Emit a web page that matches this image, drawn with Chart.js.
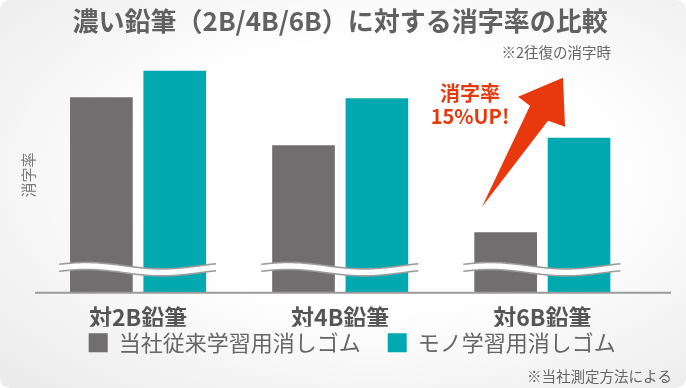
<!DOCTYPE html>
<html lang="ja">
<head>
<meta charset="utf-8">
<script src="https://cdn.jsdelivr.net/npm/chart.js@4.4.1/dist/chart.umd.min.js"></script>
<style>
  html, body { margin: 0; padding: 0; background: #fff; }
  .wrap {
    width: 686px;
    height: 388px;
    border-radius: 10px;
    overflow: hidden;
    background: radial-gradient(ellipse 75% 75% at 55% 45%, #ffffff 45%, #ebebeb 100%);
  }
  canvas { display: block; }
</style>
</head>
<body>
<div class="wrap"><canvas id="chart" width="686" height="388"></canvas></div>
<script>
"use strict";

const categories = ["対2B鉛筆", "対4B鉛筆", "対6B鉛筆"];
const seriesNames = ["当社従来学習用消しゴム", "モノ学習用消しゴム"];
const oldEraser = [80.6, 60.8, 24.9];
const monoEraser = [91.5, 80.2, 63.9];

const titleText = "濃い鉛筆（2B/4B/6B）に対する消字率の比較";
const noteTop = "※2往復の消字時";
const noteBottom = "※当社測定方法による";
const yTitle = "消字率";
const upText = ["消字率", "15%UP!"];

const JP = "'Noto Sans CJK JP', 'Noto Sans', sans-serif";
const GRAY = "#706e6f";
const TEAL = "#00a8b0";
const RED = "#e8380d";

// wavy "break" marks, baseline, arrow and notes
const extras = {
  id: "extras",
  afterDatasetsDraw(chart) {
    const ctx = chart.ctx;
    const area = chart.chartArea;
    const m0 = chart.getDatasetMeta(0).data;
    const m1 = chart.getDatasetMeta(1).data;

    ctx.save();

    // baseline
    ctx.strokeStyle = "#9a9a9a";
    ctx.lineWidth = 2;
    ctx.beginPath();
    ctx.moveTo(35, area.bottom);
    ctx.lineTo(671, area.bottom);
    ctx.stroke();

    // wave breaks
    const yc = area.bottom - 27;
    for (let i = 0; i < m0.length; i++) {
      const left = m0[i].x - m0[i].width / 2 - 11;
      const right = m1[i].x + m1[i].width / 2 + 10;
      const wave = (x) => yc - 3.2 * Math.cos((2 * Math.PI * (x - left - 27)) / 152);
      const edge = (off) => {
        ctx.beginPath();
        for (let x = left; x <= right; x += 1) {
          if (x === left) ctx.moveTo(x, wave(x) + off);
          else ctx.lineTo(x, wave(x) + off);
        }
        ctx.stroke();
      };
      ctx.beginPath();
      for (let x = left; x <= right; x += 1) {
        if (x === left) ctx.moveTo(x, wave(x));
        else ctx.lineTo(x, wave(x));
      }
      for (let x = right; x >= left; x -= 1) {
        ctx.lineTo(x, wave(x) + 7);
      }
      ctx.closePath();
      ctx.fillStyle = "#ffffff";
      ctx.fill();
      ctx.strokeStyle = "#9c9c9c";
      ctx.lineWidth = 1.6;
      edge(0);
      edge(7);
    }

    // red arrow, placed from the last teal bar
    const b = m1[m1.length - 1];
    const ax = b.x;
    const ay = b.y;
    const pts = [[-16, -60], [-61, -41], [-49, -32], [-97, 69], [-31, -17], [-14, -11]];
    ctx.fillStyle = RED;
    ctx.beginPath();
    pts.forEach((p, k) => {
      if (k === 0) ctx.moveTo(ax + p[0], ay + p[1]);
      else ctx.lineTo(ax + p[0], ay + p[1]);
    });
    ctx.closePath();
    ctx.fill();

    ctx.font = "bold 20px " + JP;
    ctx.textAlign = "center";
    ctx.textBaseline = "middle";
    ctx.fillText(upText[0], ax - 109, ay - 44);
    ctx.fillText(upText[1], ax - 109, ay - 21);

    // notes
    ctx.fillStyle = "#666";
    ctx.font = "14.5px " + JP;
    ctx.textAlign = "right";
    ctx.fillText(noteTop, 611, 52);
    ctx.fillText(noteBottom, 672, 376);

    // y title
    ctx.fillStyle = "#7a7a7a";
    ctx.font = "15px " + JP;
    ctx.translate(28.5, 175);
    ctx.rotate(-Math.PI / 2);
    ctx.textAlign = "center";
    ctx.fillText(yTitle, 0, 0);

    ctx.restore();
  },
};

new Chart(document.getElementById("chart"), {
  type: "bar",
  data: {
    labels: categories,
    datasets: [
      { label: seriesNames[0], data: oldEraser, backgroundColor: GRAY },
      { label: seriesNames[1], data: monoEraser, backgroundColor: TEAL },
    ],
  },
  options: {
    responsive: false,
    animation: false,
    devicePixelRatio: 1,
    categoryPercentage: 0.726,
    barPercentage: 0.854,
    layout: { padding: { left: 37, right: 18.6, top: 0, bottom: 24.3 } },
    scales: {
      x: {
        grid: { display: false, drawTicks: false },
        border: { display: false },
        ticks: {
          color: "#555",
          padding: 19,
          font: { family: JP, size: 23, weight: "bold", lineHeight: 0.5 },
        },
        afterFit: (scale) => {
          scale.height = 34;
        },
      },
      y: {
        position: "right",
        min: 0,
        max: 100,
        grid: { display: false },
        border: { display: false },
        ticks: { display: false },
        afterFit: (scale) => {
          scale.width = 24;
        },
      },
    },
    plugins: {
      title: {
        display: true,
        fullSize: false,
        text: titleText,
        color: "#616161",
        font: { family: JP, size: 26, weight: "bold" },
        padding: { top: 6, bottom: 13 },
      },
      legend: {
        position: "bottom",
        labels: {
          color: "#666",
          boxWidth: 19,
          boxHeight: 19,
          padding: 5,
          font: { family: JP, size: 22 },
          generateLabels: (chart) =>
            Chart.defaults.plugins.legend.labels
              .generateLabels(chart)
              .map((item, i) => (i === 0 ? { ...item, text: item.text + "\u3000" } : item)),
        },
      },
      tooltip: { enabled: false },
    },
  },
  plugins: [extras],
});
</script>
</body>
</html>
